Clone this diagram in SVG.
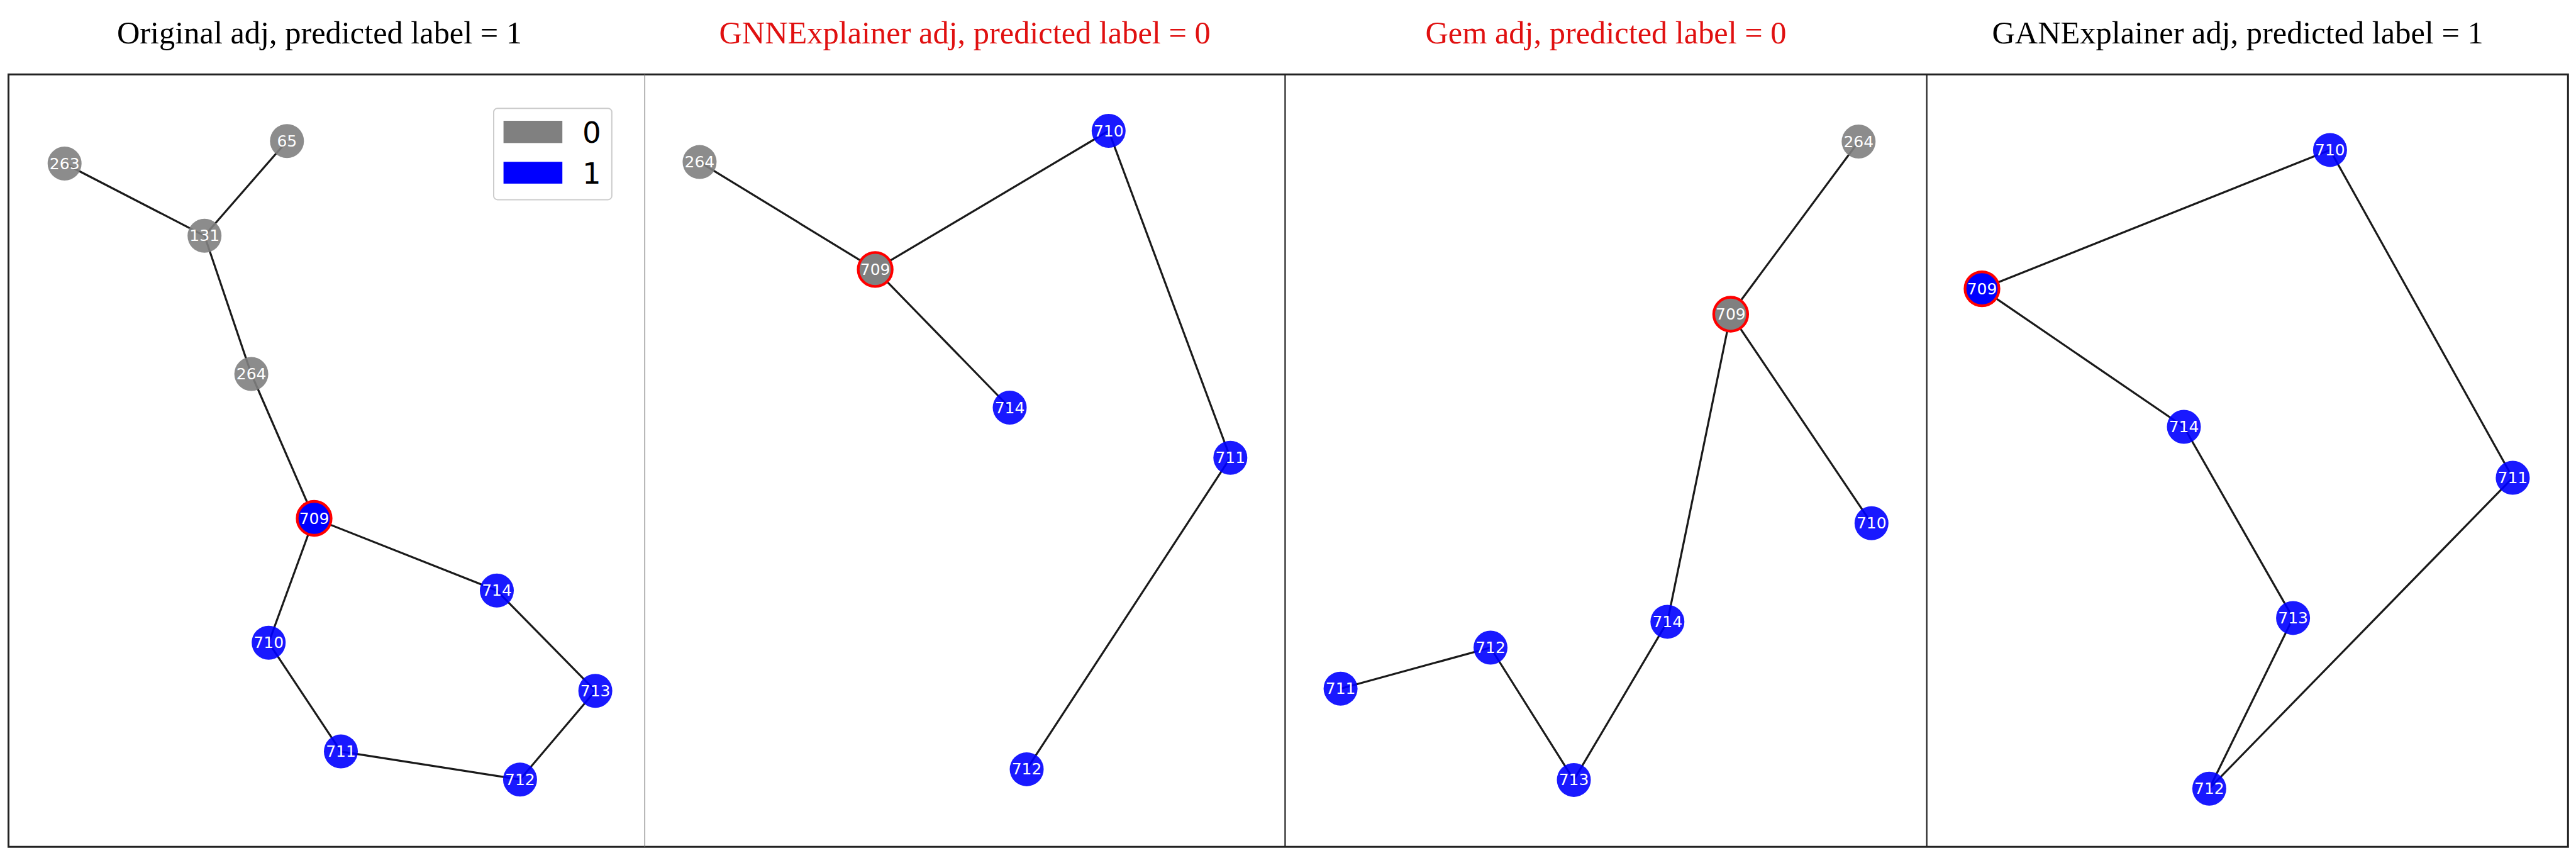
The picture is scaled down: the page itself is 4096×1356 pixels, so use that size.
<svg xmlns="http://www.w3.org/2000/svg" width="4096" height="1356" viewBox="0 0 4096 1356">
<style>
.title{font-family:"Liberation Serif","Times New Roman",serif;font-size:50.4px;text-anchor:middle}
.t-black{fill:#000}
.t-red{fill:#e01010}
.e{stroke:#1a1a1a;stroke-width:3.2;fill:none}
.g{fill:#808080;fill-opacity:0.9}
.b{fill:#0000ff;fill-opacity:0.9}
.gs{fill:#808080;stroke:#ff0000;stroke-width:4.3}
.bs{fill:#0000ff;stroke:#ff0000;stroke-width:4.3}
.lbl{font-family:"DejaVu Sans",sans-serif;font-size:25px;fill:#ffffff;text-anchor:middle;dominant-baseline:central}
.leg{font-family:"DejaVu Sans",sans-serif;font-size:46.7px;fill:#000}
</style>
<rect x="0" y="0" width="4096" height="1356" fill="#ffffff"/>
<g id="titles">
<text class="title t-black" x="508" y="69.4">Original adj, predicted label = 1</text>
<text class="title t-red" x="1534" y="69.4">GNNExplainer adj, predicted label = 0</text>
<text class="title t-red" x="2553.5" y="69.4">Gem adj, predicted label = 0</text>
<text class="title t-black" x="3558" y="69.4">GANExplainer adj, predicted label = 1</text>
</g>
<g id="frames">
<rect x="13.5" y="118.3" width="4069.8" height="1227.9" fill="none" stroke="#222" stroke-width="3"/>
<line x1="1025.2" y1="118.3" x2="1025.2" y2="1346.2" stroke="#777" stroke-width="1.2"/>
<line x1="2043.4" y1="118.3" x2="2043.4" y2="1346.2" stroke="#222" stroke-width="2.2"/>
<line x1="3063.7" y1="118.3" x2="3063.7" y2="1346.2" stroke="#222" stroke-width="2.2"/>
</g>
<g id="legend">
<rect x="785" y="172.2" width="187.8" height="145.2" rx="6" fill="#fff" stroke="#cccccc" stroke-width="2"/>
<rect x="800.6" y="192" width="93.6" height="35.4" fill="#808080"/>
<rect x="800.6" y="257.2" width="93.6" height="34.7" fill="#0000ff"/>
<text class="leg" x="926" y="226.7">0</text>
<text class="leg" x="926" y="291.7">1</text>
</g>
<g id="connectors">
<line class="e" x1="102.7" y1="260" x2="325.2" y2="374.8"/>
<line class="e" x1="456.3" y1="224.2" x2="325.2" y2="374.8"/>
<line class="e" x1="325.2" y1="374.8" x2="399.6" y2="594.5"/>
<line class="e" x1="399.6" y1="594.5" x2="499.5" y2="824"/>
<line class="e" x1="499.5" y1="824" x2="790" y2="938.8"/>
<line class="e" x1="499.5" y1="824" x2="427.2" y2="1021.7"/>
<line class="e" x1="790" y1="938.8" x2="946.6" y2="1098.2"/>
<line class="e" x1="427.2" y1="1021.7" x2="542" y2="1194.6"/>
<line class="e" x1="542" y1="1194.6" x2="826.9" y2="1239.2"/>
<line class="e" x1="826.9" y1="1239.2" x2="946.6" y2="1098.2"/>

<line class="e" x1="1112.4" y1="257.6" x2="1391.6" y2="428.4"/>
<line class="e" x1="1391.6" y1="428.4" x2="1762.8" y2="208"/>
<line class="e" x1="1391.6" y1="428.4" x2="1605.5" y2="648"/>
<line class="e" x1="1762.8" y1="208" x2="1956.3" y2="727.7"/>
<line class="e" x1="1956.3" y1="727.7" x2="1632.5" y2="1222.9"/>

<line class="e" x1="2955.3" y1="225" x2="2751.9" y2="499.5"/>
<line class="e" x1="2751.9" y1="499.5" x2="2651.3" y2="988.4"/>
<line class="e" x1="2751.9" y1="499.5" x2="2975.8" y2="831.8"/>
<line class="e" x1="2651.3" y1="988.4" x2="2502.5" y2="1239.9"/>
<line class="e" x1="2502.5" y1="1239.9" x2="2370" y2="1029.5"/>
<line class="e" x1="2370" y1="1029.5" x2="2131.6" y2="1094.7"/>

<line class="e" x1="3151.5" y1="459.1" x2="3704.9" y2="238.4"/>
<line class="e" x1="3151.5" y1="459.1" x2="3472.5" y2="678.5"/>
<line class="e" x1="3704.9" y1="238.4" x2="3995.4" y2="759.5"/>
<line class="e" x1="3472.5" y1="678.5" x2="3646.1" y2="982.4"/>
<line class="e" x1="3646.1" y1="982.4" x2="3512.9" y2="1253.7"/>
<line class="e" x1="3995.4" y1="759.5" x2="3512.9" y2="1253.7"/>
</g>
<g id="p1-n263"><circle class="g" cx="102.7" cy="260" r="27"/><text class="lbl" x="102.7" y="260">263</text></g>
<g id="p1-n65"><circle class="g" cx="456.3" cy="224.2" r="27"/><text class="lbl" x="456.3" y="224.2">65</text></g>
<g id="p1-n131"><circle class="g" cx="325.2" cy="374.8" r="27"/><text class="lbl" x="325.2" y="374.8">131</text></g>
<g id="p1-n264"><circle class="g" cx="399.6" cy="594.5" r="27"/><text class="lbl" x="399.6" y="594.5">264</text></g>
<g id="p1-n709"><circle class="bs" cx="499.5" cy="824" r="27"/><text class="lbl" x="499.5" y="824">709</text></g>
<g id="p1-n714"><circle class="b" cx="790" cy="938.8" r="27"/><text class="lbl" x="790" y="938.8">714</text></g>
<g id="p1-n710"><circle class="b" cx="427.2" cy="1021.7" r="27"/><text class="lbl" x="427.2" y="1021.7">710</text></g>
<g id="p1-n713"><circle class="b" cx="946.6" cy="1098.2" r="27"/><text class="lbl" x="946.6" y="1098.2">713</text></g>
<g id="p1-n711"><circle class="b" cx="542" cy="1194.6" r="27"/><text class="lbl" x="542" y="1194.6">711</text></g>
<g id="p1-n712"><circle class="b" cx="826.9" cy="1239.2" r="27"/><text class="lbl" x="826.9" y="1239.2">712</text></g>

<g id="p2-n264"><circle class="g" cx="1112.4" cy="257.6" r="27"/><text class="lbl" x="1112.4" y="257.6">264</text></g>
<g id="p2-n710"><circle class="b" cx="1762.8" cy="208" r="27"/><text class="lbl" x="1762.8" y="208">710</text></g>
<g id="p2-n709"><circle class="gs" cx="1391.6" cy="428.4" r="27"/><text class="lbl" x="1391.6" y="428.4">709</text></g>
<g id="p2-n714"><circle class="b" cx="1605.5" cy="648" r="27"/><text class="lbl" x="1605.5" y="648">714</text></g>
<g id="p2-n711"><circle class="b" cx="1956.3" cy="727.7" r="27"/><text class="lbl" x="1956.3" y="727.7">711</text></g>
<g id="p2-n712"><circle class="b" cx="1632.5" cy="1222.9" r="27"/><text class="lbl" x="1632.5" y="1222.9">712</text></g>

<g id="p3-n264"><circle class="g" cx="2955.3" cy="225" r="27"/><text class="lbl" x="2955.3" y="225">264</text></g>
<g id="p3-n709"><circle class="gs" cx="2751.9" cy="499.5" r="27"/><text class="lbl" x="2751.9" y="499.5">709</text></g>
<g id="p3-n710"><circle class="b" cx="2975.8" cy="831.8" r="27"/><text class="lbl" x="2975.8" y="831.8">710</text></g>
<g id="p3-n714"><circle class="b" cx="2651.3" cy="988.4" r="27"/><text class="lbl" x="2651.3" y="988.4">714</text></g>
<g id="p3-n712"><circle class="b" cx="2370" cy="1029.5" r="27"/><text class="lbl" x="2370" y="1029.5">712</text></g>
<g id="p3-n711"><circle class="b" cx="2131.6" cy="1094.7" r="27"/><text class="lbl" x="2131.6" y="1094.7">711</text></g>
<g id="p3-n713"><circle class="b" cx="2502.5" cy="1239.9" r="27"/><text class="lbl" x="2502.5" y="1239.9">713</text></g>

<g id="p4-n710"><circle class="b" cx="3704.9" cy="238.4" r="27"/><text class="lbl" x="3704.9" y="238.4">710</text></g>
<g id="p4-n709"><circle class="bs" cx="3151.5" cy="459.1" r="27"/><text class="lbl" x="3151.5" y="459.1">709</text></g>
<g id="p4-n714"><circle class="b" cx="3472.5" cy="678.5" r="27"/><text class="lbl" x="3472.5" y="678.5">714</text></g>
<g id="p4-n711"><circle class="b" cx="3995.4" cy="759.5" r="27"/><text class="lbl" x="3995.4" y="759.5">711</text></g>
<g id="p4-n713"><circle class="b" cx="3646.1" cy="982.4" r="27"/><text class="lbl" x="3646.1" y="982.4">713</text></g>
<g id="p4-n712"><circle class="b" cx="3512.9" cy="1253.7" r="27"/><text class="lbl" x="3512.9" y="1253.7">712</text></g>
</svg>
